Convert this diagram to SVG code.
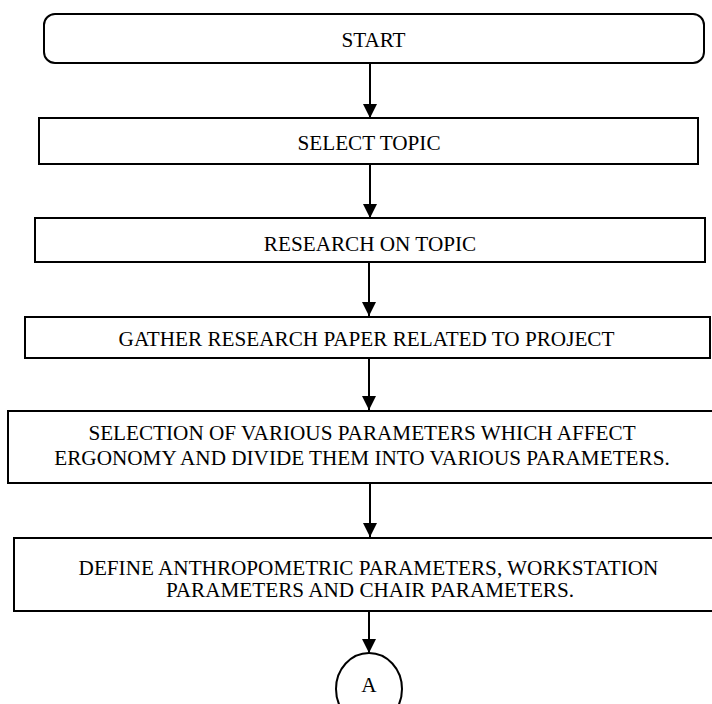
<svg xmlns="http://www.w3.org/2000/svg" width="712" height="704" viewBox="0 0 712 704">
<style>
.box{fill:#fff;stroke:#000;stroke-width:2}
.t{font-family:"Liberation Serif","Times New Roman",serif;font-size:21.2px;fill:#000;text-anchor:middle}
.c{stroke:#000;stroke-width:2;fill:none;marker-end:url(#ah)}
</style>
<defs>
<marker id="ah" markerUnits="userSpaceOnUse" markerWidth="16" markerHeight="16" viewBox="0 0 16 16" refX="14" refY="8" orient="auto">
<path d="M0,1 L14,8 L0,15 Z" fill="#000"/>
</marker>
</defs>
<rect width="712" height="704" fill="#fff"/>
<g id="connectors">
<line class="c" x1="370" y1="63" x2="370" y2="118"/>
<line class="c" x1="370" y1="164" x2="370" y2="218"/>
<line class="c" x1="369" y1="262" x2="369" y2="316"/>
<line class="c" x1="369" y1="358" x2="369" y2="410"/>
<line class="c" x1="370" y1="483" x2="370" y2="537"/>
<line class="c" x1="369" y1="611" x2="369" y2="653"/>
</g>
<g id="start">
<rect class="box" x="44" y="14" width="660" height="49" rx="11" ry="11"/>
<text class="t" x="373.5" y="47">START</text>
</g>
<g id="select-topic">
<rect class="box" x="39" y="118" width="659" height="46"/>
<text class="t" x="369" y="150">SELECT TOPIC</text>
</g>
<g id="research-topic">
<rect class="box" x="35" y="218" width="670" height="44"/>
<text class="t" x="370" y="250.5">RESEARCH ON TOPIC</text>
</g>
<g id="gather">
<rect class="box" x="25" y="317" width="685" height="41"/>
<text class="t" x="366.5" y="346">GATHER RESEARCH PAPER RELATED TO PROJECT</text>
</g>
<g id="selection">
<rect class="box" x="8" y="411" width="720" height="72"/>
<text class="t" x="362" y="439.5">SELECTION OF VARIOUS PARAMETERS WHICH AFFECT</text>
<text class="t" x="362" y="465">ERGONOMY AND DIVIDE THEM INTO VARIOUS PARAMETERS.</text>
</g>
<g id="define">
<rect class="box" x="14" y="538" width="720" height="73"/>
<text class="t" x="368.5" y="575">DEFINE ANTHROPOMETRIC PARAMETERS, WORKSTATION</text>
<text class="t" x="370" y="597">PARAMETERS AND CHAIR PARAMETERS.</text>
</g>
<g id="connector-a">
<ellipse class="box" cx="369" cy="689" rx="33" ry="36"/>
<text class="t" x="369" y="692">A</text>
</g>
</svg>
